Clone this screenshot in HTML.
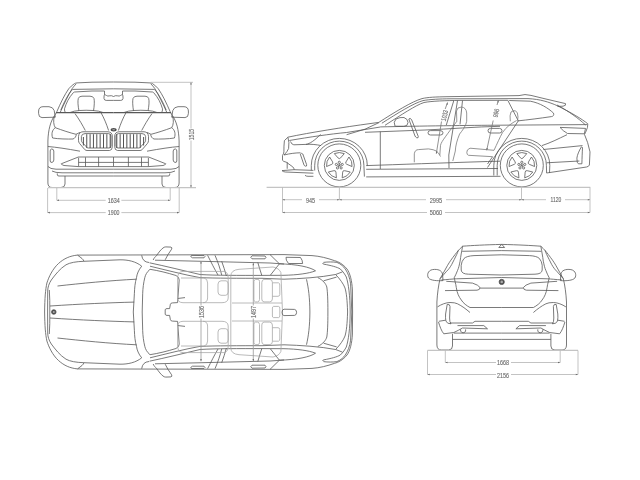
<!DOCTYPE html>
<html><head><meta charset="utf-8">
<style>
html,body{margin:0;padding:0;background:#fff;width:640px;height:480px;overflow:hidden}
svg{display:block;filter:grayscale(1)}
.c{fill:none;stroke:#585858;stroke-width:0.8;stroke-linecap:butt;stroke-linejoin:round}
.d{fill:none;stroke:#b4b4b4;stroke-width:0.8}
.g{fill:none;stroke:#c4c4c4;stroke-width:1.3}
.t{font-family:"Liberation Sans",sans-serif;font-size:6.9px;fill:#5e5e5e;stroke:#8a8a8a;stroke-width:0.15;text-anchor:middle}
</style></head>
<body>
<svg width="640" height="480" viewBox="0 0 640 480">
<rect width="640" height="480" fill="#fff"/>

<!-- ============ FRONT VIEW ============ -->
<g id="fl" class="c">
  <!-- roof & pillars -->
  <path d="M113.5,82 L92,82.2 L77,82.9 Q75.2,83.1 74.5,83.6 Q71,86 68.7,88.8 Q65.5,93.5 62.8,98.8 Q59.5,105.5 57,111.3 L55,115"/>
  <path d="M76.2,83.8 Q74,86 72,88.8 Q69,94 66.2,99.7 Q63,106 60.3,112.2 L59.8,112.6"/>
  <path d="M113.5,88.8 L73,89.4 Q72.3,89.6 71.5,90.5 Q69,93.5 67,97.2 Q64.5,101.5 62,107.2 L60.8,110"/>
  <path d="M104.5,91 L92,91 L74.5,92 Q73.7,92.2 73.2,92.8 Q70,96.5 67.8,100.5 Q65.8,104.5 64.5,108.8 Q64.3,111.5 65.5,112.4"/>
  <path style="stroke-width:1.1" d="M113.5,112.6 L56,112.6"/>
  <!-- headrest -->
  <path d="M79,111 C78,106 77.6,101 78.3,98.5 Q79,96.2 82,96.2 L90,96.2 Q93.2,96.2 94,98.5 C94.6,101 94.3,106 93.5,111"/>
  <path d="M70,112.5 Q74,110.8 79.5,110.5 Q86,110 93,110.5 Q99,110.8 103,112.5"/>
  <!-- rear view mirror -->
  <path d="M113.5,96.5 Q111.5,95.3 109.8,95.8 Q107.5,96.5 106.5,95.5 Q105.5,94.75 104.5,94.75 Q104,95.5 104,97 L104,98.5 Q104.2,100.4 106.2,100.4 L113.5,100.4"/>
  <path d="M104.5,91 L104.5,94.75"/>
  <!-- side mirror -->
  <path d="M55.3,117.2 L42,117.6 Q38.6,117.4 38.6,113.5 L38.6,111 Q38.8,106.8 43,106.7 L49,106.7 Q53,107 54.2,110.5 L55.3,117.2"/>
  <!-- body side -->
  <path d="M55,115 C50.5,121 48.2,130 47.9,141 L47.9,183 Q48,187.5 52,187.5 L61,187.5 Q65,187.5 65,184 L65,176"/>
  <!-- headlight -->
  <path d="M54.4,116 C53.2,120 53.4,125 55.3,127.7 C62,130.2 70,132.8 76,134.3 L80,132.4"/>
  <path d="M55.3,127.7 C52,130 51.3,134 52.6,138 C58,139 68,139.2 73,139 C75,138.3 76,136.5 76.4,134.5"/>
  <!-- hood creases -->
  <path d="M75,113.6 C79,119 83,126 85.3,130.5"/>
  <path d="M101,112.7 C104,118 106.5,124 108.6,130.5"/>
  <!-- kidney -->
  <path d="M83,131.75 L108,131.75 Q112.2,132.2 112.3,136 L112.3,146.75 Q112.2,150.3 109.5,150.5 L87,150.5 Q85.8,150.5 84.8,149.6 L79.6,143.5 Q78.5,142.2 78.5,140.5 L78.5,136.5 Q78.8,132 83,131.75 Z"/>
  <path d="M85,133.6 L108.5,133.6 Q111,133.8 111,136 L111,146 Q110.8,148 109,148 L88.5,148 Q87.5,148 86.8,147.3 L82.2,142.3 Q81.4,141.5 81.4,140.3 L81.4,136.5 Q81.6,133.7 85,133.6 Z"/>
  <path style="stroke:#4a4a4a;stroke-width:0.95" d="M83.40,137.0 L83.40,145.5 M86.75,134.2 L86.75,148.0 M90.10,134.2 L90.10,148.0 M93.45,134.2 L93.45,148.0 M96.80,134.2 L96.80,148.0 M100.15,134.2 L100.15,148.0 M103.50,134.2 L103.50,148.0 M106.85,134.2 L106.85,148.0 M110.20,134.2 L110.20,148.0"/>
  <!-- lower grille -->
  <path d="M61.2,163.8 L78.4,157 L113.5,157 M61.2,163.8 Q62,165.2 64,165.5 L78.4,166.6 L113.5,166.6"/>
  <path d="M78.6,157.7 L78.6,166.6 M85.5,157.3 L85.5,166.6 M98.6,157 L98.6,166.6 M78.6,162.4 L113.5,162.4"/>
  <!-- bumper -->
  <path d="M47.9,146.5 Q60,147.5 80,151.2"/>
  <path d="M48,166.5 Q50,169 56,169.2 L113.5,169.2"/>
  <path d="M52,171 Q55,172.8 62,172.8 L113.5,172.8"/>
  <path d="M57.3,173.4 L57.3,175 Q57.5,176 59,176 L113.5,176"/>
  <!-- side slot -->
  <path d="M51.5,149 Q50.2,149.3 50.2,151 L50.2,161 Q50.4,162.8 52,162.4 Q53.8,162 53.8,160 L53.8,151 Q53.6,148.8 51.5,149 Z"/>
</g>
<use href="#fl" transform="translate(227,0) scale(-1,1)"/>
<ellipse cx="113.6" cy="129.8" rx="3" ry="1.7" fill="#4a4a4a"/><ellipse cx="113.6" cy="129.8" rx="1.5" ry="0.8" fill="#999"/>
<path class="c" d="M113.5,157 L113.5,166.6"/>

<!-- front dims -->
<path class="g" d="M48,187.7 L196,187.7"/>
<path class="d" d="M150.6,82.3 L193,82.3 M191,82.3 L191,128.5 M191,140.5 L191,187.7"/>
<path class="d" d="M56.8,188 L56.8,200.3 L105.7,200.3 M121.4,200.3 L170.2,200.3 L170.2,188"/>
<path class="d" d="M47.6,188 L47.6,212.6 L105.7,212.6 M121.4,212.6 L179.2,212.6 L179.2,188"/>
<text class="t" x="113.8" y="202.8" textLength="12" lengthAdjust="spacingAndGlyphs">1634</text>
<text class="t" x="113.7" y="215.1" textLength="11.7" lengthAdjust="spacingAndGlyphs">1900</text>
<text class="t" transform="translate(191,134.5) rotate(-90)" y="2.5" textLength="11.5" lengthAdjust="spacingAndGlyphs">1515</text>


<!-- ============ SIDE VIEW ============ -->
<g class="c">
  <!-- roof / silhouette -->
  <path d="M287.8,137.2 C310,132.5 345,127 370,123.6 L378.8,122.4 C395,112 412,101.5 422,98.6 C428,97.2 436,96.9 447,96.7 L519,95.6 Q525,93.6 531,95.4 L545,98.8 L565.5,103.6 Q566.5,105.6 563,106.2 L557.5,106.4"/>
  <path d="M381.9,123.2 C397,113.5 414,103 423,100.6 C430,99.3 440,98.9 450,98.8 L528,98.6 C540,99.2 549,102 557.5,105.8 C570,112 582,119 587.8,123.8 Q588.2,127 585.6,132.3"/>
  <path d="M557,105 C569,111.5 578,118 585.6,125"/>
  <!-- window top inner -->
  <path d="M385,125.3 C401,115 416,105 424,102.5 C432,101 445,100.6 460,100.4 L507.8,100.3 L518.3,120.9"/>
  <!-- quarter window -->
  <path d="M509.2,100.5 L530.3,101.2 C540,103 548,108 553.5,113.1 Q554.5,116 551.4,116.6 C540,118.3 528,119.8 517.7,120.9"/>
  <!-- belt lines -->
  <path d="M380.3,126.9 C420,126 470,125.3 500,125.2 L587.2,124.6"/>
  <path d="M365,132.3 L425,130 C450,129 475,126.8 500,126.3"/>
  <!-- hood second line -->
  <path d="M289.3,140.5 C310,137 330,134 346.6,132.5 L380.3,127"/>
  <path d="M346.6,134.7 L365,129.2 L379,122.6"/>
  <!-- nose -->
  <path d="M288,137.2 L284.4,140.6 Q283.8,146 283.9,151.9 Q283.6,154 282.5,155.4 L282.5,160.3 Q283.3,161.6 286.3,162.2 L292.8,166.9 Q294,168 294.2,169.7"/>
  <path d="M288,137.6 Q289.5,142 288.6,148.5 Q287.5,151.5 284,155"/>
  <!-- headlight -->
  <path d="M290.5,141.5 Q291.5,144.5 293.8,144.8 L306,144.4 C310,143.6 314,141 320.6,134.4"/>
  <path d="M306,144.4 C311,144 317,144.6 321,145.6"/>
  <!-- front bumper -->
  <path d="M283.9,155 C290,153.5 296,152.8 300.5,152.8"/>
  <path d="M282,170.6 L294,169.7 L313.4,170.4"/>
  <path d="M282,170.6 Q283,171.8 285.3,172 L313.4,173.2"/>
  <path d="M305,175.3 Q306,176.3 308,176.3 L313.4,176.3"/>
  <path d="M287.2,162.2 L287.2,168.75"/>
  <!-- intake slot -->
  <path d="M300.3,154.2 Q301.3,152.6 302.8,154 L306.6,164.6 Q307,166.6 305.5,166.2 Q304.5,166 304,165 Z"/>
  <!-- door lines -->
  <path d="M380.3,131.6 L380.3,169"/>
  <path d="M453.8,100.6 L446.3,125 M457.5,100.6 L448.8,155 L449,168 M462.5,100.6 L460,124.4"/>
  <path d="M518.3,120.9 L487.5,167.5"/>
  <path d="M492.6,156.7 L487.5,164"/>
  <!-- sills -->
  <path d="M366.2,165.6 C400,164.5 440,163 487.5,161.5 L500,161.2"/>
  <path d="M366.2,169.3 L498,168.5"/>
  <path d="M366.2,176.9 L500.5,176.3"/>
  <!-- mirror -->
  <path d="M395,126.2 Q393,122 396,119 Q400,117 404,117.5 Q408,119 408,122.5 Q407.8,126.3 404,126.3 Z"/>
  <!-- steering wheel -->
  <path d="M408.8,119 Q410,117.5 411.5,119.5 L418.3,136.5 Q418.5,138.5 416.6,137.7 Q415.6,137.2 415,136 Z"/>
  <!-- handles -->
  <path d="M430.5,130.6 L440.5,130.6 Q443,131 443,132.8 Q443,135 440.5,135 L430.5,135 Q428,135 428,132.8 Q428,130.6 430.5,130.6 Z"/>
  <path d="M490.5,128.4 L499.5,128.4 Q502,128.6 502,130.7 Q502,133 499.5,133 L490.5,133 Q488,133 488,130.7 Q488,128.4 490.5,128.4 Z"/>
  <!-- rear end -->
  <path d="M585.6,132.3 L584.5,134.5 Q588,142 590,151.9 L589.4,165 Q588.8,166.6 586.5,167 L546.6,173"/>
  <path d="M560,127.4 L585.5,128.4 L584.3,133.8 L567.5,133.5 Q563,131 560,127.4"/>
  <path d="M567,134.7 C558,139 550,143 541.9,145.6"/>
  <path d="M543.4,149.5 L582.5,145.6"/>
  <path d="M546.6,162.8 L579.4,161"/>
  <path d="M581.3,147 C579,151 577.2,155 576.9,158.1 Q576.8,163.5 578.4,163.8 L581.9,163.8 C582,158 582.3,152 582.5,147.5 Q582,146.5 581.3,147 Z"/>
</g>
<g class="c" style="stroke:#707070">
  <!-- interior (lighter) -->
  <g style="stroke:#7a7a7a">
  <path d="M456.8,121.5 L456.5,111 Q457,107 461.5,107 Q466.2,107.5 466.7,113 L466.7,121.3"/>
  <path d="M466.7,121.3 C466,126 462,131 459.6,134 C457,140 455.5,146 455.3,151 L452.8,161"/>
  <path d="M456.8,121.3 C452,128 448,133 445.4,136.8 C443,140 441,143 440.5,145.3 L439.8,155.3"/>
  <path d="M414.3,162.3 L414.3,153.8 Q415,149.6 418.5,149.6 L428.4,148.9 Q434,149.5 436.2,151 Q439,153 439.8,155.3 L440.5,156.5"/>
  <path d="M510.3,121.3 Q509.5,115 511,112 Q513,110.3 515.5,110.8 Q518,112 518,117 L517.5,120.5"/>
  <path d="M470,148.2 L494,150.3 M468.5,155.3 L492.6,156.7 M470,148.2 Q466.5,149.5 466.8,152.5 Q467,155 468.5,155.3"/>
  <path d="M494,150.3 C497,144 500,137 502.5,132.6 C506,127 512,123 516.6,120.5"/>
  </g>
</g>
<!-- wheels -->
<g class="c">
  <circle cx="339.3" cy="165.4" r="21.5"/>
  <circle cx="339.3" cy="165.4" r="15"/>
  <path d="M311.3,170.5 L311.3,165.4 A28,27 0 0,1 367.3,165.4 L367.3,166"/>
  <path d="M314.7,170.5 L314.7,165.4 A24.6,24.3 0 0,1 363.9,165.4 L364.4,176.6"/>
  <circle cx="521.8" cy="165.4" r="21.5"/>
  <circle cx="521.8" cy="165.4" r="15"/>
  <path d="M493.8,175.5 L493.8,165.4 A28,27 0 0,1 549.8,165.4 L549.5,173"/>
  <path d="M497.2,175.5 L497.2,165.4 A24.6,24.3 0 0,1 546.4,165.4 L546.6,173"/>
</g>
<g class="c" id="whl"><path d="M334.30,153.62 A12.8,12.8 0 0,1 344.30,153.62 L340.55,157.95 Q339.30,159.40 338.05,157.95 Z M348.96,157.00 A12.8,12.8 0 0,1 352.05,166.52 L346.77,164.29 Q345.01,163.55 345.99,161.91 Z M350.27,171.99 A12.8,12.8 0 0,1 342.18,177.87 L342.66,172.16 Q342.83,170.25 344.69,170.69 Z M336.42,177.87 A12.8,12.8 0 0,1 328.33,171.99 L333.91,170.69 Q335.77,170.25 335.94,172.16 Z M326.55,166.52 A12.8,12.8 0 0,1 329.64,157.00 L332.61,161.91 Q333.59,163.55 331.83,164.29 Z "/><circle cx="339.30" cy="162.30" r="1.1"/><path d="M339.30,165.40 L339.30,163.40"/><circle cx="342.25" cy="164.44" r="1.1"/><path d="M339.30,165.40 L341.20,164.78"/><circle cx="341.12" cy="167.91" r="1.1"/><path d="M339.30,165.40 L340.48,167.02"/><circle cx="337.48" cy="167.91" r="1.1"/><path d="M339.30,165.40 L338.12,167.02"/><circle cx="336.35" cy="164.44" r="1.1"/><path d="M339.30,165.40 L337.40,164.78"/><path d="M516.80,153.62 A12.8,12.8 0 0,1 526.80,153.62 L523.05,157.95 Q521.80,159.40 520.55,157.95 Z M531.46,157.00 A12.8,12.8 0 0,1 534.55,166.52 L529.27,164.29 Q527.51,163.55 528.49,161.91 Z M532.77,171.99 A12.8,12.8 0 0,1 524.68,177.87 L525.16,172.16 Q525.33,170.25 527.19,170.69 Z M518.92,177.87 A12.8,12.8 0 0,1 510.83,171.99 L516.41,170.69 Q518.27,170.25 518.44,172.16 Z M509.05,166.52 A12.8,12.8 0 0,1 512.14,157.00 L515.11,161.91 Q516.09,163.55 514.33,164.29 Z "/><circle cx="521.80" cy="162.30" r="1.1"/><path d="M521.80,165.40 L521.80,163.40"/><circle cx="524.75" cy="164.44" r="1.1"/><path d="M521.80,165.40 L523.70,164.78"/><circle cx="523.62" cy="167.91" r="1.1"/><path d="M521.80,165.40 L522.98,167.02"/><circle cx="519.98" cy="167.91" r="1.1"/><path d="M521.80,165.40 L520.62,167.02"/><circle cx="518.85" cy="164.44" r="1.1"/><path d="M521.80,165.40 L519.90,164.78"/></g>
<path class="g" d="M266.6,187.3 L590.3,187.3"/>
<path class="d" d="M282.5,187.5 L282.5,212.5 L427,212.5 M445,212.5 L590,212.5 L590,187.5"/>
<path class="d" d="M282.5,199.7 L302,199.7 M319,199.7 L426,199.7 M446,199.7 L546,199.7 M565,199.7 L590,199.7"/>
<path class="d" d="M339.4,187.5 L339.4,199.7 M521.5,187.5 L521.5,199.7"/>
<text class="t" x="310.5" y="202.6" textLength="9.1" lengthAdjust="spacingAndGlyphs">945</text>
<text class="t" x="436" y="202.6" textLength="12.5" lengthAdjust="spacingAndGlyphs">2995</text>
<text class="t" x="555.9" y="202.2" textLength="10.7" lengthAdjust="spacingAndGlyphs">1120</text>
<text class="t" x="436" y="215" textLength="12.5" lengthAdjust="spacingAndGlyphs">5060</text>
<path class="d" style="stroke:#777" d="M447.5,102.5 L445.2,109 M441.5,121.5 L436.3,153.7"/>
<text class="t" transform="translate(444.5,115.5) rotate(-76)" y="2.5" textLength="11" lengthAdjust="spacingAndGlyphs">1033</text>
<path class="d" style="stroke:#777" d="M498.4,100.3 L497,105 M493.2,120.5 L486.7,150.3"/>
<text class="t" transform="translate(496,113) rotate(-76)" y="2.5" textLength="8.5" lengthAdjust="spacingAndGlyphs">996</text>


<!-- ============ TOP VIEW ============ -->
<g id="tl" class="c">
  <!-- outer outline -->
  <path d="M352.6,312 L352.4,290 C352,281 350,273 347,269 C343,264 338,261.5 334.6,260.7 C327,258 320,256.2 312,255.6 L284,254.6 L77.5,255.1 C70,255.8 64,258.5 58.5,263.5 C52.5,269 48.8,277 46.9,283 C45.4,290 44.8,298 44.6,312"/>
  <path d="M323.4,262.4 C328,261.8 333,261.8 336.9,262.4 C341,264 343.5,266.5 345.3,269 C348,273 349.8,278 350.6,283.8 L351.8,312"/>
  <!-- tail light -->
  <path d="M322.3,263 Q323,264 324,264.2 C331,265.5 337,267 340.3,269 C343,271.5 345,274.5 346.3,277 C348.5,284 350,295 350.2,312"/>
  <!-- front strip -->
  <path d="M77.5,255.1 L82,258.5 Q84,260.2 83.7,261.3 C76,261.6 70,262.6 66,264.8 C60,268.5 55,275 51.3,280 C49,283.5 47.8,287 47.7,291 L47.6,312"/>
  <path d="M49.3,290 Q50,300 49.8,312"/>
  <!-- hood edge -->
  <path d="M83.7,261.3 L120,259.8 C128,259.7 136,261.5 141.7,266.2 C138.5,270 137,274 136.5,277.6 C135,283 134.6,288 134.4,293.3 L133.3,312"/>
  <!-- hood creases -->
  <path d="M57.5,286 C80,283.5 110,280.5 136.5,279.2"/>
  <path d="M50,306 C80,304 110,302.7 134.2,302.1"/>
  <!-- windshield glass -->
  <path d="M165.2,312 L165.2,309.8 Q165.4,308.6 167,308.6 L169.6,308.6 L170.4,304.2 Q170.8,302.9 172.5,302.9 L177.6,302.6 L179.2,280 Q179.4,277.3 176,275.5 C168,273 158,270.5 150,269.3 C146.8,272 145.4,275 144.8,277.6 C143.5,283 142.9,288 142.7,293.3 L142.2,312"/>
  <path d="M177.6,298.5 L185,297.6"/>
  <!-- mirror -->
  <path d="M153.2,260 C154,258 155,257 156.5,255.7 C159,252 161,249.5 163,248 Q164,247 165.8,246.9 L171,247.1 Q172.5,247.6 171.6,249.2 L168,254.6 L165.2,259.8"/>
  <path d="M141.7,255.3 Q142.5,262 149,262.5"/>
  <!-- A pillar / belt -->
  <path d="M149.5,262.8 C165,266 185,271 200,274.5 C215,275.5 240,275.4 262,275.4 L284,275.3"/>
  <path d="M150,266.2 C165,269.8 185,275 200,277.6 C215,278.3 240,278.3 262,278.3 L284,279.2 C300,278.7 320,277.5 335.6,274.5 L342.4,271.9"/>
  <path d="M155,260.2 L200,261.25 L270,263 L284,264"/>
  <!-- roof rail segments -->
  <path d="M191.5,255.4 L204,255.6 Q206,256.5 204,257.8 L192.5,257.8 Q189.5,256.6 191.5,255.4 Z"/>
  <path d="M252,255.8 L265,256 Q267,257.3 265,258.8 L252,258.8 Q249.5,257.3 252,255.8 Z"/>
  <!-- pillars -->
  <path d="M207.6,255.3 C211,262 215,270 218,275"/>
  <path d="M215,255.3 C218,262 220.5,270 221.7,275"/>
  <path d="M221.7,261.3 C223.5,266 225,271 226.4,276"/>
  <path d="M257.8,262.5 C259,267 260.5,271 261.8,275.4"/>
  <path d="M270.5,275 L279.4,263.8 L270,254.6"/>
  <!-- quarter glass -->
  <path d="M279.4,263.8 C297,264.3 310,267 315.5,270.8 C309,273.5 297,275 284,275.3"/>
  <!-- tailgate -->
  <path d="M306.5,279.3 C308.5,288 309.8,298 309.9,312"/>
  <path d="M317.8,277.6 C323,280 326,284 326.8,287 C327.6,292 327.9,300 327.9,312"/>
  <path d="M323.6,280.8 L336.6,277.1"/>
  <path d="M335.6,274.5 C340,279 343.5,284 345,288 C346.5,293 347.2,300 347.6,312"/>
  <!-- seats (light) -->
  <g style="stroke:#a8a8a8">
    <path d="M183,271.4 L224,271.4 Q228.2,272 228.2,278 L228.2,298 Q228,302.7 222,302.7 L183,302.7 Q177.6,302.5 177.6,298 L177.6,278 Q177.8,271.6 183,271.4 Z"/>
    <path d="M181,278 L204,278 Q207.6,278.5 207.6,283 L207.6,298 Q207.4,302.7 203,302.7"/>
    <path d="M221,280.8 L226,280.8 Q228.2,281.2 228.2,284 L228.2,292 Q228,295.3 225.5,295.3 L221,295.3 Q218,295 218,292 L218,284 Q218.3,281 221,280.8 Z"/>
    <path d="M230.8,312 L230.8,276 Q231,270 239,269.3 L273,267 Q279,268 280.9,272.6 L282.5,312"/>
    <path d="M255.5,279.4 L258,279.4 Q259.5,279.6 259.5,281.5 L259.5,299.5 Q259.3,301.9 257.5,301.9 L255.5,301.9 Q253.9,301.7 253.9,299.5 L253.9,281.5 Q254.1,279.6 255.5,279.4 Z"/>
    <path d="M264,279.4 L270,279.4 Q272.4,279.8 272.4,282.5 L272.4,299 Q272.2,301.9 269.5,301.9 L264,301.9 Q261.8,301.6 261.8,299 L261.8,282.5 Q262,279.6 264,279.4 Z"/>
    <path d="M272.4,282.8 L278.5,282.8 Q279.8,283.2 279.8,285 L279.8,294.5 Q279.6,296.3 278,296.3 L272.4,296.3"/>
    <path d="M232,303 L282,303"/>
  </g>
</g>
<use href="#tl" transform="translate(0,624) scale(1,-1)"/>
<path class="c" d="M286,257.3 L300.5,257.5 Q302.6,260 302.6,263.5 L288.5,263.5 Q285.5,260 286,257.3 Z"/>
<g class="c">
  <circle cx="53.8" cy="312" r="2.3" fill="#4a4a4a"/><circle cx="53.8" cy="312" r="1.1" fill="#aaa" stroke="none"/>
  <path style="stroke:#a8a8a8" d="M273.5,306.4 L278.5,306.4 Q279.8,306.6 279.8,308 L279.8,316 Q279.6,317.6 278.5,317.6 L273.5,317.6 Q272.4,317.4 272.4,316 L272.4,308 Q272.6,306.6 273.5,306.4 Z"/>
  <path d="M284,309.2 L294.5,309.4 Q296.6,309.8 296.6,312.3 Q296.6,315.2 294.5,315.4 L284,315.6 Q282,315.4 282,312.3 Q282,309.5 284,309.2 Z"/>
</g>
<path class="d" style="stroke:#999" d="M201,261.3 L201,305.5 M201,318.5 L201,361.3 M253.3,263 L253.3,305.5 M253.3,318.5 L253.3,361.3"/>
<text class="t" transform="translate(201,312) rotate(-90)" y="2.5" textLength="12" lengthAdjust="spacingAndGlyphs">1536</text>
<text class="t" transform="translate(253.3,312) rotate(-90)" y="2.5" textLength="12" lengthAdjust="spacingAndGlyphs">1497</text>

<!-- ============ REAR VIEW ============ -->
<g id="rl" class="c">
  <path d="M501.7,244.4 C485,244.8 472,245.5 462.6,246.2 C459,249.5 457,252 455.1,254.5 C452,258.5 449.5,262 447.6,265.3 C445,270 442.5,274.5 440.1,278.7 C438.5,285 437.3,294 436.9,302 L436.9,345 Q437,350 441.3,350 L448.5,350 Q452.5,350 452.5,346 L452.5,333.8"/>
  <path d="M458.4,250.3 C457.8,252 457.3,253.3 456.7,254.5 C455,258 453.5,261 451.7,264.5 C450,267.5 448.5,269.5 446.7,271.2 L440.1,278.7"/>
  <path d="M462.6,246.2 C461.5,252 460.8,256 460.1,261.2 C459.3,265 458.7,268 457.6,270.3 C456.5,273 455.5,275.5 454.2,277.8"/>
  <path d="M462.2,251.3 L501.7,250.6"/>
  <path d="M501.7,254.8 L474,255.6 Q466.5,256 464,258.5 Q461.5,261.5 461.2,265.3 L461.2,270 Q461.5,274 468.4,274.2 L501.7,275"/>
  <path d="M441.3,280 C448,279.5 452,279 456.3,278.8 L501.7,277.5"/>
  <!-- taillight -->
  <path d="M446.3,281.3 L472.5,283.1 Q478.5,285 480,287.5 Q480,290 477,290.2 L445,290.6"/>
  <path d="M480,288.1 L501.7,288.1"/>
  <!-- body curves -->
  <path d="M454.2,277.8 Q454.6,279.5 455,281.3 Q456,285 456.3,287.5 C457,293 459,297 461.3,300 C463,303 467,306 470,307.5 L501.7,307.5"/>
  <path d="M437.5,306.9 C441,304.5 446,302.5 450,302.5 Q455,302.5 457.5,303.8 C462,306 466,309 470,312.5"/>
  <!-- mirror -->
  <path d="M443,280.6 C437,281 430.5,280.5 428.5,278 C426.8,275.5 427.5,270.5 432.5,269.6 C438,268.8 441.8,270.5 442.5,274 L443,280.6"/>
  <!-- reflector -->
  <path d="M447.2,304.4 Q450,304 450,306.5 L449.6,318 Q449.5,322 451,323.8 Q447,324 445.9,321 Q445.3,318 445.6,314 Z"/>
  <!-- lower bumper -->
  <path d="M438.8,321.3 L445.6,320.2"/>
  <path d="M438.5,322 C440,327 441.5,331 443.8,333.8 L453.8,332.5 C457,331 460,329.5 462.5,328 L487.5,328.8"/>
  <path d="M457.5,325.6 L483.8,325.6 L487.5,328.8"/>
  <path d="M450,323 L472.5,323 L475,321.3 L501.7,321.3"/>
  <path d="M453.8,333.1 L501.7,333.1"/>
  <path d="M452.5,339.4 L501.7,339.4"/>
  <path d="M460.6,329.4 L460.6,331 Q461.5,332.8 463.1,332.8 Q465,332.8 465.6,331 L465.6,329.4"/>
</g>
<use href="#rl" transform="translate(1003.4,0) scale(-1,1)"/>
<g class="c">
  <path d="M498.8,247.5 L501.2,244.8 Q501.7,244.4 502.2,244.8 L504.6,247.5 Z"/>
  <circle cx="501.7" cy="281.9" r="2.6" fill="#4a4a4a"/><circle cx="501.7" cy="281.9" r="1.3" fill="#aaa" stroke="none"/>
</g>
<path class="g" d="M427.5,350.3 L578,350.3"/>
<path class="d" d="M445.3,350.5 L445.3,362.5 L496,362.5 M511,362.5 L560.2,362.5 L560.2,350.5"/>
<path class="d" d="M427.5,350.5 L427.5,374.5 L496,374.5 M511,374.5 L578,374.5 L578,350.5"/>
<text class="t" x="503" y="364.9" textLength="12" lengthAdjust="spacingAndGlyphs">1668</text>
<text class="t" x="503" y="377.8" textLength="12" lengthAdjust="spacingAndGlyphs">2156</text>

<path d="M56.80,200.30 L59.00,201.10 L59.00,199.50 Z M170.20,200.30 L168.00,199.50 L168.00,201.10 Z M47.60,212.60 L49.80,213.40 L49.80,211.80 Z M179.20,212.60 L177.00,211.80 L177.00,213.40 Z M191.00,82.30 L190.20,84.50 L191.80,84.50 Z M191.00,187.50 L191.80,185.30 L190.20,185.30 Z M282.50,199.70 L284.70,200.50 L284.70,198.90 Z M339.40,199.70 L337.20,198.90 L337.20,200.50 Z M339.40,199.70 L341.60,200.50 L341.60,198.90 Z M521.50,199.70 L519.30,198.90 L519.30,200.50 Z M521.50,199.70 L523.70,200.50 L523.70,198.90 Z M590.00,199.70 L587.80,198.90 L587.80,200.50 Z M282.50,212.50 L284.70,213.30 L284.70,211.70 Z M590.00,212.50 L587.80,211.70 L587.80,213.30 Z M201.00,261.30 L200.20,263.50 L201.80,263.50 Z M201.00,361.30 L201.80,359.10 L200.20,359.10 Z M253.30,263.00 L252.50,265.20 L254.10,265.20 Z M253.30,361.30 L254.10,359.10 L252.50,359.10 Z M445.30,362.50 L447.50,363.30 L447.50,361.70 Z M560.20,362.50 L558.00,361.70 L558.00,363.30 Z M427.50,374.50 L429.70,375.30 L429.70,373.70 Z M578.00,374.50 L575.80,373.70 L575.80,375.30 Z M447.50,102.50 L446.25,104.48 L447.81,104.82 Z M436.30,153.70 L437.55,151.72 L435.99,151.38 Z M498.40,100.30 L497.12,102.26 L498.68,102.62 Z M486.70,150.30 L487.98,148.34 L486.42,147.98 Z " fill="#6a6a6a" stroke="none"/>
</svg>
</body></html>
